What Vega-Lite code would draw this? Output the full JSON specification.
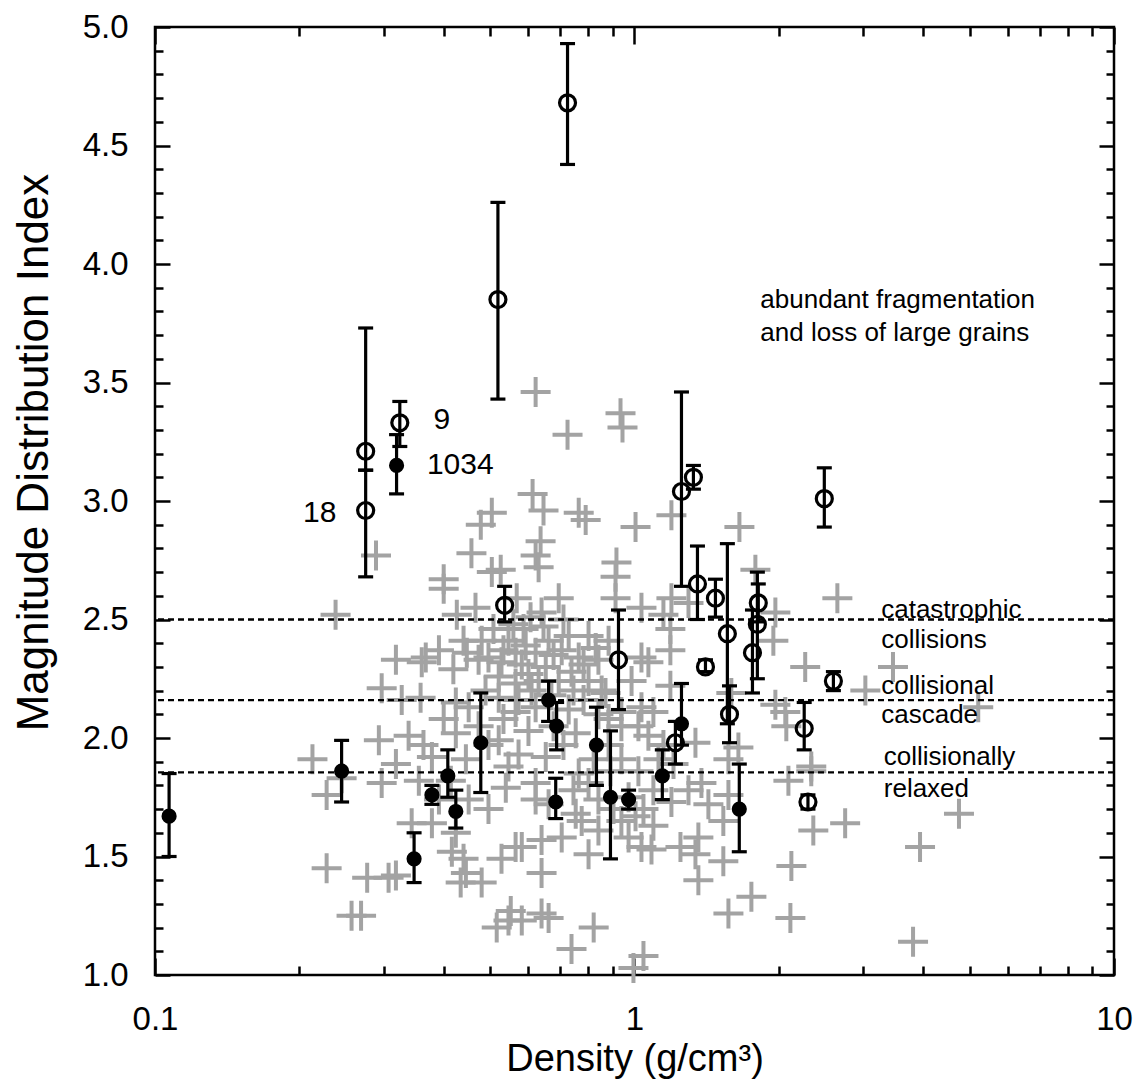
{
  "$schema": "https://vega.github.io/schema/vega-lite/v6.json",
  "width": 959,
  "height": 948,
  "autosize": {"type": "none"},
  "padding": {"left": 155, "top": 27, "right": 23, "bottom": 107},
  "background": "white",
  "config": {
    "view": {"stroke": "black", "strokeWidth": 2.5},
    "axis": {"grid": false, "domain": false, "tickColor": "black", "tickWidth": 2.5, "labelFont": "Liberation Sans", "titleFont": "Liberation Sans", "labelColor": "black", "titleColor": "black", "titleFontWeight": "normal", "labelFontSize": 33, "titleFontSize": 38}
  },
  "datasets": {
    "crosses": [
      {"d":0.622,"m":3.46},{"d":0.725,"m":3.28},{"d":0.935,"m":3.37},{"d":0.944,"m":3.31},{"d":0.504,"m":2.95},{"d":0.478,"m":2.90},{"d":0.613,"m":3.03},{"d":0.646,"m":2.96},{"d":0.765,"m":2.95},{"d":0.791,"m":2.92},
      {"d":1.005,"m":2.89},{"d":1.194,"m":2.94},{"d":1.655,"m":2.89},{"d":1.787,"m":2.71},{"d":2.649,"m":2.59},{"d":1.967,"m":2.53},{"d":1.948,"m":2.41},{"d":2.27,"m":2.30},{"d":3.03,"m":2.20},{"d":3.46,"m":2.30},
      {"d":5.21,"m":2.13},{"d":0.289,"m":2.77},{"d":0.238,"m":2.52},{"d":0.297,"m":2.21},{"d":0.318,"m":2.33},{"d":0.457,"m":2.78},{"d":0.637,"m":2.83},{"d":0.622,"m":2.77},{"d":0.631,"m":2.72},{"d":0.917,"m":2.74},
      {"d":0.913,"m":2.68},{"d":0.913,"m":2.59},{"d":0.504,"m":2.70},{"d":0.526,"m":2.71},{"d":0.400,"m":2.67},{"d":0.400,"m":2.63},{"d":0.695,"m":2.59},{"d":0.426,"m":2.52},{"d":0.466,"m":2.55},{"d":0.568,"m":2.59},
      {"d":0.607,"m":2.51},{"d":0.640,"m":2.53},{"d":0.367,"m":2.34},{"d":0.360,"m":2.32},{"d":0.447,"m":2.36},{"d":0.496,"m":2.34},{"d":0.528,"m":2.32},{"d":0.565,"m":2.36},{"d":0.582,"m":2.31},{"d":0.622,"m":2.36},
      {"d":0.662,"m":2.41},{"d":0.705,"m":2.37},{"d":0.729,"m":2.43},{"d":0.765,"m":2.34},{"d":0.802,"m":2.43},{"d":0.830,"m":2.38},{"d":0.521,"m":2.26},{"d":0.565,"m":2.23},{"d":0.601,"m":2.27},{"d":0.653,"m":2.30},
      {"d":0.695,"m":2.24},{"d":0.739,"m":2.28},{"d":0.802,"m":2.24},{"d":0.854,"m":2.20},{"d":0.646,"m":2.47},{"d":0.587,"m":2.46},{"d":0.546,"m":2.41},{"d":1.034,"m":2.55},{"d":1.149,"m":2.52},{"d":1.194,"m":2.59},
      {"d":1.296,"m":2.57},{"d":1.188,"m":2.46},{"d":1.188,"m":2.37},{"d":1.034,"m":2.34},{"d":1.069,"m":2.32},{"d":0.986,"m":2.24},{"d":1.188,"m":2.22},{"d":1.034,"m":2.13},{"d":1.592,"m":2.19},{"d":1.967,"m":2.14},
      {"d":2.063,"m":2.11},{"d":2.073,"m":2.05},{"d":1.647,"m":1.96},{"d":2.337,"m":1.88},{"d":0.327,"m":2.16},{"d":0.424,"m":2.15},{"d":0.451,"m":2.13},{"d":0.521,"m":2.17},{"d":0.565,"m":2.11},{"d":0.622,"m":2.13},
      {"d":0.729,"m":2.12},{"d":0.870,"m":2.19},{"d":0.939,"m":2.11},{"d":0.318,"m":1.89},{"d":0.378,"m":1.92},{"d":0.424,"m":2.02},{"d":0.414,"m":1.82},{"d":0.445,"m":1.91},{"d":0.521,"m":1.99},{"d":0.546,"m":1.88},
      {"d":0.539,"m":1.79},{"d":0.601,"m":2.03},{"d":0.622,"m":1.81},{"d":0.622,"m":1.74},{"d":0.653,"m":1.92},{"d":0.754,"m":2.02},{"d":0.765,"m":1.85},{"d":0.802,"m":1.81},{"d":0.939,"m":2.05},{"d":0.939,"m":1.91},
      {"d":0.972,"m":1.75},{"d":0.754,"m":1.68},{"d":0.776,"m":1.65},{"d":0.705,"m":1.58},{"d":0.939,"m":1.65},{"d":0.972,"m":1.58},{"d":0.343,"m":1.64},{"d":0.378,"m":1.64},{"d":0.424,"m":1.60},{"d":0.318,"m":1.42},
      {"d":0.416,"m":1.52},{"d":0.440,"m":1.49},{"d":0.445,"m":1.43},{"d":0.434,"m":1.39},{"d":0.480,"m":1.39},{"d":0.528,"m":1.49},{"d":0.565,"m":1.54},{"d":0.582,"m":1.54},{"d":0.640,"m":1.57},{"d":0.640,"m":1.43},
      {"d":0.802,"m":1.51},{"d":0.552,"m":1.27},{"d":0.516,"m":1.20},{"d":0.546,"m":1.23},{"d":0.582,"m":1.23},{"d":0.640,"m":1.26},{"d":0.662,"m":1.24},{"d":0.739,"m":1.11},{"d":0.822,"m":1.20},{"d":0.995,"m":1.03},
      {"d":1.340,"m":1.98},{"d":1.379,"m":1.81},{"d":1.194,"m":1.73},{"d":1.570,"m":1.91},{"d":1.570,"m":1.76},{"d":1.532,"m":1.65},{"d":1.034,"m":1.54},{"d":1.085,"m":1.53},{"d":1.247,"m":1.54},{"d":1.359,"m":1.58},
      {"d":1.340,"m":1.51},{"d":1.532,"m":1.48},{"d":1.359,"m":1.40},{"d":1.753,"m":1.33},{"d":1.570,"m":1.26},{"d":2.124,"m":1.46},{"d":2.114,"m":1.24},{"d":2.36,"m":1.61},{"d":2.75,"m":1.64},{"d":2.094,"m":1.82},
      {"d":2.337,"m":1.86},{"d":1.044,"m":1.08},{"d":1.005,"m":1.67},{"d":4.75,"m":1.68},{"d":3.94,"m":1.54},{"d":3.81,"m":1.14},{"d":0.213,"m":1.91},{"d":0.228,"m":1.76},{"d":0.245,"m":1.83},{"d":0.297,"m":1.81},
      {"d":0.228,"m":1.45},{"d":0.277,"m":1.41},{"d":0.307,"m":1.41},{"d":0.257,"m":1.25},{"d":0.269,"m":1.25},{"d":0.293,"m":1.99},{"d":0.338,"m":2.01},{"d":0.363,"m":1.97},{"d":0.358,"m":2.17},{"d":0.400,"m":2.08},
      {"d":0.473,"m":2.05},{"d":0.883,"m":1.97},{"d":1.069,"m":2.01},{"d":1.122,"m":1.91},{"d":1.019,"m":1.86},{"d":0.891,"m":1.86},{"d":1.095,"m":1.78},{"d":0.841,"m":1.74},{"d":1.044,"m":1.70},{"d":1.149,"m":1.97},
      {"d":1.019,"m":2.05},{"d":1.095,"m":2.11},{"d":0.883,"m":2.08},
      {"d":0.480,"m":2.41},{"d":0.508,"m":2.46},{"d":0.533,"m":2.37},{"d":0.559,"m":2.48},{"d":0.593,"m":2.39},{"d":0.610,"m":2.20},{"d":0.678,"m":2.35},{"d":0.711,"m":2.50},{"d":0.746,"m":2.20},{"d":0.783,"m":2.31},
      {"d":0.841,"m":2.33},{"d":0.883,"m":2.41},{"d":0.631,"m":2.24},{"d":0.671,"m":2.18},{"d":0.489,"m":2.20},{"d":0.473,"m":2.33},{"d":0.440,"m":2.41},{"d":0.419,"m":2.29},{"d":0.391,"m":2.37},{"d":0.573,"m":2.16},
      {"d":0.783,"m":2.16},{"d":0.841,"m":2.10},{"d":0.678,"m":2.05},{"d":0.533,"m":2.08},{"d":0.496,"m":1.97},{"d":0.573,"m":1.93},{"d":0.711,"m":1.97},{"d":0.822,"m":1.91},{"d":0.746,"m":1.78},{"d":0.662,"m":1.72},
      {"d":0.904,"m":1.70},{"d":0.841,"m":1.61},{"d":1.095,"m":1.63},{"d":1.206,"m":1.89},{"d":1.296,"m":1.78},{"d":1.426,"m":1.72},{"d":0.451,"m":1.74},{"d":0.496,"m":1.70},{"d":0.355,"m":1.82},{"d":0.391,"m":1.74}
    ],
    "pts": [
      {"d":0.275,"m":3.21,"lo":3.13,"hi":3.73,"type":"open"},
      {"d":0.275,"m":2.96,"lo":2.68,"hi":3.13,"type":"open"},
      {"d":0.324,"m":3.33,"lo":3.23,"hi":3.42,"type":"open"},
      {"d":0.519,"m":3.85,"lo":3.43,"hi":4.26,"type":"open"},
      {"d":0.725,"m":4.68,"lo":4.42,"hi":4.93,"type":"open"},
      {"d":0.536,"m":2.56,"lo":2.49,"hi":2.64,"type":"open"},
      {"d":0.926,"m":2.33,"lo":2.12,"hi":2.54,"type":"open"},
      {"d":1.253,"m":3.04,"lo":2.64,"hi":3.46,"type":"open"},
      {"d":1.327,"m":3.10,"lo":3.05,"hi":3.15,"type":"open"},
      {"d":1.353,"m":2.65,"lo":2.50,"hi":2.81,"type":"open"},
      {"d":1.475,"m":2.59,"lo":2.51,"hi":2.67,"type":"open"},
      {"d":1.406,"m":2.30,"lo":2.28,"hi":2.33,"type":"open"},
      {"d":1.562,"m":2.44,"lo":2.06,"hi":2.82,"type":"open"},
      {"d":1.578,"m":2.10,"lo":1.98,"hi":2.22,"type":"open"},
      {"d":1.812,"m":2.57,"lo":2.49,"hi":2.65,"type":"open"},
      {"d":1.804,"m":2.48,"lo":2.25,"hi":2.70,"type":"open"},
      {"d":1.762,"m":2.36,"lo":2.19,"hi":2.54,"type":"open"},
      {"d":2.488,"m":3.01,"lo":2.89,"hi":3.14,"type":"open"},
      {"d":2.599,"m":2.24,"lo":2.20,"hi":2.28,"type":"open"},
      {"d":2.259,"m":2.04,"lo":1.95,"hi":2.15,"type":"open"},
      {"d":1.217,"m":1.98,"lo":1.89,"hi":2.07,"type":"open"},
      {"d":2.30,"m":1.73,"lo":1.70,"hi":1.76,"type":"open"},
      {"d":0.107,"m":1.67,"lo":1.50,"hi":1.85,"type":"filled"},
      {"d":0.245,"m":1.86,"lo":1.73,"hi":1.99,"type":"filled"},
      {"d":0.319,"m":3.15,"lo":3.03,"hi":3.28,"type":"filled"},
      {"d":0.347,"m":1.49,"lo":1.39,"hi":1.60,"type":"filled"},
      {"d":0.378,"m":1.76,"lo":1.72,"hi":1.80,"type":"filled"},
      {"d":0.408,"m":1.84,"lo":1.75,"hi":1.95,"type":"filled"},
      {"d":0.424,"m":1.69,"lo":1.62,"hi":1.78,"type":"filled"},
      {"d":0.478,"m":1.98,"lo":1.77,"hi":2.19,"type":"filled"},
      {"d":0.662,"m":2.16,"lo":2.07,"hi":2.24,"type":"filled"},
      {"d":0.688,"m":2.05,"lo":1.95,"hi":2.15,"type":"filled"},
      {"d":0.685,"m":1.73,"lo":1.66,"hi":1.83,"type":"filled"},
      {"d":0.833,"m":1.97,"lo":1.80,"hi":2.13,"type":"filled"},
      {"d":0.891,"m":1.75,"lo":1.49,"hi":2.03,"type":"filled"},
      {"d":0.972,"m":1.74,"lo":1.70,"hi":1.78,"type":"filled"},
      {"d":1.143,"m":1.84,"lo":1.74,"hi":1.95,"type":"filled"},
      {"d":1.253,"m":2.06,"lo":1.97,"hi":2.23,"type":"filled"},
      {"d":1.654,"m":1.70,"lo":1.52,"hi":1.89,"type":"filled"}
    ],
    "lines": [{"v":2.5},{"v":2.16},{"v":1.855}],
    "labels": [
      {"d":0.381,"m":3.34,"t":"9","size":30},
      {"d":0.369,"m":3.15,"t":"1034","size":30},
      {"d":1.83,"m":3.85,"t":"abundant fragmentation","size":26},
      {"d":1.83,"m":3.71,"t":"and loss of large grains","size":26},
      {"d":3.27,"m":2.54,"t":"catastrophic","size":26},
      {"d":3.27,"m":2.415,"t":"collisions","size":26},
      {"d":3.27,"m":2.22,"t":"collisional","size":26},
      {"d":3.27,"m":2.095,"t":"cascade","size":26},
      {"d":3.31,"m":1.92,"t":"collisionally","size":26},
      {"d":3.31,"m":1.785,"t":"relaxed","size":26}
    ],
    "rlabels": [
      {"d":0.239,"m":2.95,"t":"18"}
    ]
  },
  "layer": [
    {
      "data": {"name": "crosses"},
      "mark": {"type": "point", "shape": "M-1,0H1M0,-1V1", "filled": false, "stroke": "#a3a3a3", "strokeWidth": 4, "size": 900, "opacity": 1},
      "encoding": {
        "x": {"field": "d", "type": "quantitative", "scale": {"type": "log", "domain": [0.1, 10], "nice": false},
              "axis": {"orient": "bottom", "values": [0.1, 1, 10], "format": "~g", "tickSize": -17, "labelPadding": 45, "title": "Density (g/cm³)", "titlePadding": 4, "labelFlush": false}},
        "y": {"field": "m", "type": "quantitative", "scale": {"domain": [1, 5], "nice": false, "zero": false},
              "axis": {"orient": "left", "values": [1, 1.5, 2, 2.5, 3, 3.5, 4, 4.5, 5], "format": ".1f", "tickSize": -15, "labelPadding": 42, "title": "Magnitude Distribution Index", "titleFontSize": 44, "titlePadding": 26, "titleY": 425, "labelFlush": false}}
      }
    },
    {
      "data": {"name": "lines"},
      "mark": {"type": "rule", "stroke": "black", "strokeWidth": 2.4, "strokeDash": [6, 4]},
      "encoding": {
        "y": {"field": "v", "type": "quantitative", "scale": {"domain": [1, 5], "nice": false, "zero": false}, "axis": null}
      }
    },
    {
      "data": {"name": "pts"},
      "mark": {"type": "rule", "stroke": "black", "strokeWidth": 3.2},
      "encoding": {
        "x": {"field": "d", "type": "quantitative", "scale": {"type": "log", "domain": [0.1, 10], "nice": false},
              "axis": {"orient": "top", "values": [0.2,0.3,0.4,0.5,0.6,0.7,0.8,0.9,2,3,4,5,6,7,8,9], "tickSize": -9, "labels": false, "title": null}},
        "y": {"field": "lo", "type": "quantitative", "scale": {"domain": [1, 5], "nice": false, "zero": false},
              "axis": {"orient": "right", "values": [1.1,1.2,1.3,1.4,1.6,1.7,1.8,1.9,2.1,2.2,2.3,2.4,2.6,2.7,2.8,2.9,3.1,3.2,3.3,3.4,3.6,3.7,3.8,3.9,4.1,4.2,4.3,4.4,4.6,4.7,4.8,4.9], "tickSize": -8, "labels": false, "title": null}},
        "y2": {"field": "hi"}
      }
    },
    {
      "data": {"name": "pts"},
      "mark": {"type": "tick", "orient": "horizontal", "color": "black", "size": 15, "thickness": 3.2, "opacity": 1},
      "encoding": {
        "x": {"field": "d", "type": "quantitative", "scale": {"type": "log", "domain": [0.1, 10], "nice": false}, "axis": null},
        "y": {"field": "lo", "type": "quantitative", "scale": {"domain": [1, 5], "nice": false, "zero": false}, "axis": null}
      }
    },
    {
      "data": {"name": "pts"},
      "mark": {"type": "tick", "orient": "horizontal", "color": "black", "size": 15, "thickness": 3.2, "opacity": 1},
      "encoding": {
        "x": {"field": "d", "type": "quantitative", "scale": {"type": "log", "domain": [0.1, 10], "nice": false}, "axis": null},
        "y": {"field": "hi", "type": "quantitative", "scale": {"domain": [1, 5], "nice": false, "zero": false}, "axis": null}
      }
    },
    {
      "data": {"name": "pts"},
      "transform": [{"filter": "datum.type === 'open'"}],
      "mark": {"type": "point", "shape": "circle", "filled": false, "stroke": "black", "strokeWidth": 3.2, "size": 256, "opacity": 1},
      "encoding": {
        "x": {"field": "d", "type": "quantitative", "scale": {"type": "log", "domain": [0.1, 10], "nice": false},
              "axis": {"orient": "bottom", "values": [0.2,0.3,0.4,0.5,0.6,0.7,0.8,0.9,2,3,4,5,6,7,8,9], "tickSize": -9, "labels": false, "title": null}},
        "y": {"field": "m", "type": "quantitative", "scale": {"domain": [1, 5], "nice": false, "zero": false},
              "axis": {"orient": "left", "values": [1.1,1.2,1.3,1.4,1.6,1.7,1.8,1.9,2.1,2.2,2.3,2.4,2.6,2.7,2.8,2.9,3.1,3.2,3.3,3.4,3.6,3.7,3.8,3.9,4.1,4.2,4.3,4.4,4.6,4.7,4.8,4.9], "tickSize": -8, "labels": false, "title": null}}
      }
    },
    {
      "data": {"name": "pts"},
      "transform": [{"filter": "datum.type === 'filled'"}],
      "mark": {"type": "point", "shape": "circle", "filled": true, "fill": "black", "size": 230, "opacity": 1},
      "encoding": {
        "x": {"field": "d", "type": "quantitative", "scale": {"type": "log", "domain": [0.1, 10], "nice": false},
              "axis": {"orient": "top", "values": [0.1, 1, 10], "tickSize": -17, "labels": false, "title": null}},
        "y": {"field": "m", "type": "quantitative", "scale": {"domain": [1, 5], "nice": false, "zero": false},
              "axis": {"orient": "right", "values": [1, 1.5, 2, 2.5, 3, 3.5, 4, 4.5, 5], "tickSize": -15, "labels": false, "title": null}}
      }
    },
    {
      "data": {"name": "labels"},
      "mark": {"type": "text", "align": "left", "baseline": "middle", "font": "Liberation Sans", "color": "black"},
      "encoding": {
        "x": {"field": "d", "type": "quantitative", "scale": {"type": "log", "domain": [0.1, 10], "nice": false}, "axis": null},
        "y": {"field": "m", "type": "quantitative", "scale": {"domain": [1, 5], "nice": false, "zero": false}, "axis": null},
        "text": {"field": "t"},
        "size": {"field": "size", "type": "quantitative", "scale": null}
      }
    },
    {
      "data": {"name": "rlabels"},
      "mark": {"type": "text", "align": "right", "baseline": "middle", "font": "Liberation Sans", "color": "black", "fontSize": 30},
      "encoding": {
        "x": {"field": "d", "type": "quantitative", "scale": {"type": "log", "domain": [0.1, 10], "nice": false}, "axis": null},
        "y": {"field": "m", "type": "quantitative", "scale": {"domain": [1, 5], "nice": false, "zero": false}, "axis": null},
        "text": {"field": "t"}
      }
    }
  ],
  "resolve": {"axis": {"x": "independent", "y": "independent"}}
}
